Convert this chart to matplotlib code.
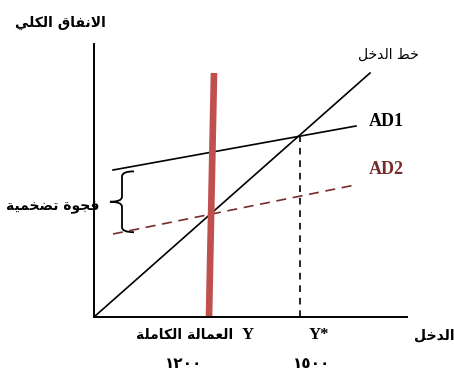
import matplotlib

matplotlib.use("Agg")
import matplotlib.pyplot as plt
from matplotlib.patches import PathPatch
from matplotlib.path import Path

# Values (income on x, spending on y, arbitrary units).
income_line_x = [0, 276]
income_line_y = [0, 244]
ad1_x = [19, 262]
ad1_y = [147, 191]
ad2_x = [19, 261]
ad2_y = [83, 132]
full_emp_x = [115, 120]
full_emp_y = [0, 244]
y_star = 206
ad1_at_y_star = 181

y_label = "الانفاق الكلي"
x_label = "الدخل"
income_line_label = "خط الدخل"
gap_label = "فجوة تضخمية"
full_emp_label = "العمالة الكاملة"
tick_full = "١٢٠٠"
tick_star = "١٥٠٠"

# Minimal Arabic shaping (matplotlib has no complex text layout).
# letter: (isolated, final, initial, medial); initial/medial None = right-joining only
FORMS = {
    "ا": (0xFE8D, 0xFE8E, None, None),
    "ة": (0xFE93, 0xFE94, None, None),
    "ت": (0xFE95, 0xFE96, 0xFE97, 0xFE98),
    "ج": (0xFE9D, 0xFE9E, 0xFE9F, 0xFEA0),
    "خ": (0xFEA5, 0xFEA6, 0xFEA7, 0xFEA8),
    "د": (0xFEA9, 0xFEAA, None, None),
    "ض": (0xFEBD, 0xFEBE, 0xFEBF, 0xFEC0),
    "ط": (0xFEC1, 0xFEC2, 0xFEC3, 0xFEC4),
    "ع": (0xFEC9, 0xFECA, 0xFECB, 0xFECC),
    "ف": (0xFED1, 0xFED2, 0xFED3, 0xFED4),
    "ق": (0xFED5, 0xFED6, 0xFED7, 0xFED8),
    "ك": (0xFED9, 0xFEDA, 0xFEDB, 0xFEDC),
    "ل": (0xFEDD, 0xFEDE, 0xFEDF, 0xFEE0),
    "م": (0xFEE1, 0xFEE2, 0xFEE3, 0xFEE4),
    "ن": (0xFEE5, 0xFEE6, 0xFEE7, 0xFEE8),
    "و": (0xFEED, 0xFEEE, None, None),
    "ي": (0xFEF1, 0xFEF2, 0xFEF3, 0xFEF4),
}


def _dual(ch):
    return ch in FORMS and FORMS[ch][2] is not None


def shape(text):
    out = []
    i = 0
    n = len(text)
    while i < n:
        ch = text[i]
        if ch not in FORMS:
            out.append(ch)
            i += 1
            continue
        joins_prev = i > 0 and _dual(text[i - 1])
        if ch == "ل" and i + 1 < n and text[i + 1] == "ا":
            out.append(chr(0xFEFC if joins_prev else 0xFEFB))
            i += 2
            continue
        joins_next = _dual(ch) and i + 1 < n and text[i + 1] in FORMS
        iso, fin, ini, med = FORMS[ch]
        if joins_prev and joins_next:
            code = med
        elif joins_prev:
            code = fin
        elif joins_next:
            code = ini
        else:
            code = iso
        out.append(chr(code))
        i += 1
    return "".join(reversed(out))


AR = ["DejaVu Sans"]
SERIF = ["Liberation Serif", "DejaVu Serif"]

fig = plt.figure(figsize=(4.54, 3.72), dpi=100)
ax = fig.add_axes([94 / 454, 55 / 372, 313 / 454, 273 / 372])
ax.set_xlim(0, 313)
ax.set_ylim(0, 273)
for side in ("top", "right"):
    ax.spines[side].set_visible(False)
for side in ("left", "bottom"):
    ax.spines[side].set_linewidth(1.4)
ax.set_xticks([])
ax.set_yticks([])

ax.plot(income_line_x, income_line_y, color="black", lw=1.2)
ax.plot(ad1_x, ad1_y, color="black", lw=1.2)
ax.plot(ad2_x, ad2_y, color="#772C2A", lw=1.2, ls=(0, (6, 4)))
ax.plot([y_star, y_star], [0, ad1_at_y_star], color="black", lw=1.2,
        ls=(0, (4, 3.5)))
ax.plot(full_emp_x, full_emp_y, color="#C0504D", lw=4.8, solid_capstyle="butt")

# curly brace spanning the gap between AD1 and AD2
bx, tip, arm = 28, 16, 40
slope1 = (ad1_y[1] - ad1_y[0]) / (ad1_x[1] - ad1_x[0])
slope2 = (ad2_y[1] - ad2_y[0]) / (ad2_x[1] - ad2_x[0])
top = ad1_y[0] + (bx - ad1_x[0]) * slope1 - 3
bot = ad2_y[0] + (bx - ad2_x[0]) * slope2
mid = (top + bot) / 2
r = 5
verts = [
    (arm, top), (bx, top), (bx, top - r),
    (bx, mid + r), (bx, mid), (tip, mid),
    (bx, mid), (bx, mid - r),
    (bx, bot + r), (bx, bot), (arm, bot),
]
codes = [
    Path.MOVETO, Path.CURVE3, Path.CURVE3,
    Path.LINETO, Path.CURVE3, Path.CURVE3,
    Path.CURVE3, Path.CURVE3,
    Path.LINETO, Path.CURVE3, Path.CURVE3,
]
ax.add_patch(PathPatch(Path(verts, codes), fill=False, lw=1.3,
                       color="black", clip_on=False))

ax.text(-34, 294, shape(y_label), family=AR, fontsize=10, fontweight="bold",
        ha="center", va="center", clip_on=False)
ax.text(294, 262, shape(income_line_label), family=AR, fontsize=10,
        ha="center", va="center", clip_on=False)
ax.text(275, 195, "AD1", family=SERIF, fontsize=13, fontweight="bold",
        ha="left", va="center", clip_on=False)
ax.text(275, 147, "AD2", family=SERIF, fontsize=13, fontweight="bold",
        color="#772C2A", ha="left", va="center", clip_on=False)
ax.text(-41, 110, shape(gap_label), family=AR, fontsize=10, fontweight="bold",
        ha="center", va="center", clip_on=False)
ax.text(340, -18, shape(x_label), family=AR, fontsize=10, fontweight="bold",
        ha="center", va="center", clip_on=False)
ax.text(139, -18, shape(full_emp_label), family=AR, fontsize=10,
        fontweight="bold", ha="right", va="center", clip_on=False)
ax.text(154, -18, "Y", family=SERIF, fontsize=12, fontweight="bold",
        ha="center", va="center", clip_on=False)
ax.text(225, -18, "Y*", family=SERIF, fontsize=12, fontweight="bold",
        ha="center", va="center", clip_on=False)
ax.text(90, -46, tick_full, family=AR, fontsize=11, fontweight="bold",
        ha="center", va="center", clip_on=False)
ax.text(218, -46, tick_star, family=AR, fontsize=11, fontweight="bold",
        ha="center", va="center", clip_on=False)

fig.savefig("out.png", dpi=100)
